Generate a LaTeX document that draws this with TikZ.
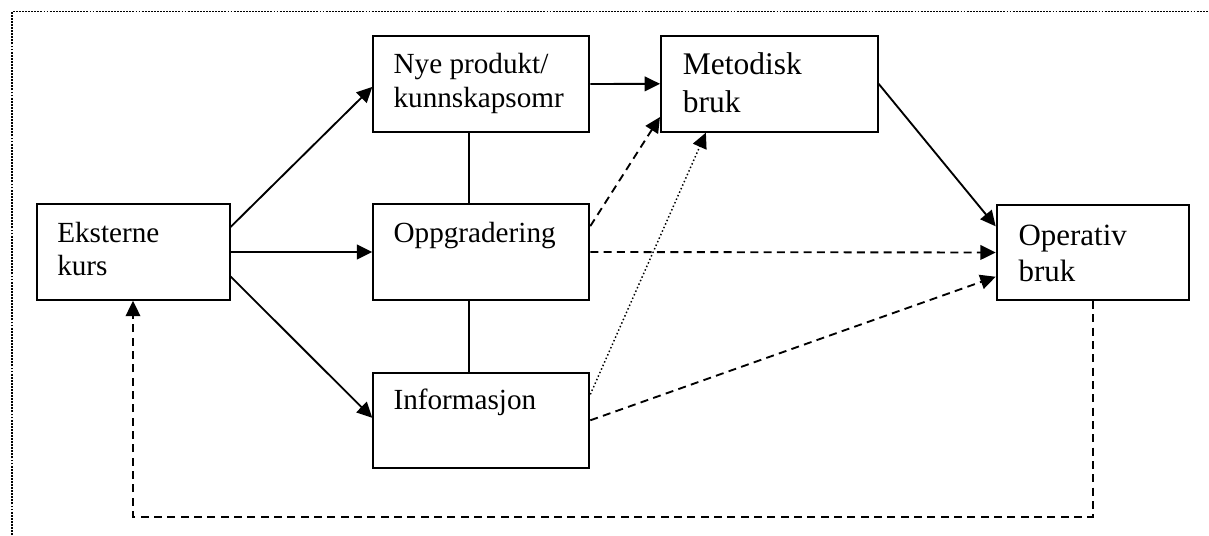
\documentclass[tikz,border=0pt]{standalone}
\usepackage{fontspec}
\setmainfont{Liberation Serif}
\usetikzlibrary{arrows.meta,calc}

\begin{document}
\begin{tikzpicture}[x=0.75pt,y=-0.75pt,
  box/.style={draw,line width=1.5pt,inner sep=0pt},
  txt/.style={inner sep=0pt,anchor=base west,align=left,font=\fontsize{21.9}{24.2}\selectfont},
  link/.style={line width=1.4pt,-{Triangle[length=11.5pt,width=11pt]}},
  plain/.style={line width=1.4pt},
  dashedlink/.style={link,dash pattern=on 6pt off 4pt},
  dottedlink/.style={line width=1.1pt,dash pattern=on 1.1pt off 1.8pt,-{Triangle[length=11.5pt,width=11pt]}},
  framestyle/.style={line width=1.4pt,dash pattern=on 1.4pt off 0.9pt}
]
\useasboundingbox (0,0) rectangle (1209,535);

% outer dotted frame (only top and left sides fall inside the page)
\draw[framestyle] (12,535) |- (1209,11.5);

% boxes
\node[box,minimum width=144.75pt,minimum height=71.8pt] (eks) at (133,252) {};
\node[box,minimum width=162pt,minimum height=72pt] (nye) at (481.3,84) {};
\node[box,minimum width=162pt,minimum height=72pt] (opp) at (481.3,252) {};
\node[box,minimum width=162pt,minimum height=71.5pt] (inf) at (481.3,420.3) {};
\node[box,minimum width=162.5pt,minimum height=71.8pt] (met) at (769.3,83.8) {};
\node[box,minimum width=144.2pt,minimum height=71.25pt] (op) at (1092.8,252.5) {};

% texts (base anchor sits on the last line)
\node[txt] (eks-txt) at (57,275) {Eksterne\\kurs};
\node[txt,font=\fontsize{21.9}{25.5}\selectfont] (nye-txt) at (393.3,107.3) {Nye produkt/\\kunnskapsomr};
\node[txt] (opp-txt) at (393.3,242.7) {Oppgradering};
\node[txt] (inf-txt) at (393.3,409.3) {Informasjon};
\node[txt,font=\fontsize{23.6}{28.5}\selectfont] (met-txt) at (682.7,113) {Metodisk\\bruk};
\node[txt,font=\fontsize{23.2}{26.8}\selectfont] (op-txt) at (1018.3,281.7) {Operativ\\bruk};

% connectors
\draw[link] ($(eks.north east)!0.245!(eks.south east)$) -- ($(nye.north west)!0.53!(nye.south west)$);
\draw[link] (eks.east) -- (opp.west);
\draw[link] ($(eks.north east)!0.75!(eks.south east)$) -- ($(inf.north west)!0.475!(inf.south west)$);
\draw[link] (nye.east) -- (met.west);
\draw[plain] ($(nye.south west)!0.444!(nye.south east)$) -- ($(opp.north west)!0.444!(opp.north east)$);
\draw[plain] ($(opp.south west)!0.444!(opp.south east)$) -- ($(inf.north west)!0.444!(inf.north east)$);
\draw[dashedlink] ($(opp.north east)!0.236!(opp.south east)$) -- ($(met.north west)!0.84!(met.south west)$);
\draw[dashedlink] (opp.east) -- (op.west);
\draw[dottedlink] ($(inf.north east)!0.234!(inf.south east)$) -- ($(met.south west)!0.21!(met.south east)$);
\draw[dashedlink] (inf.east) -- ($(op.north west)!0.75!(op.south west)$);
\draw[link] (met.east) -- ($(op.north west)!0.23!(op.south west)$);

% feedback loop back to the external courses
\coordinate (loop) at (600,516.7);
\draw[dashedlink] (op.south) |- (loop) -| (eks.south);
\end{tikzpicture}
\end{document}
